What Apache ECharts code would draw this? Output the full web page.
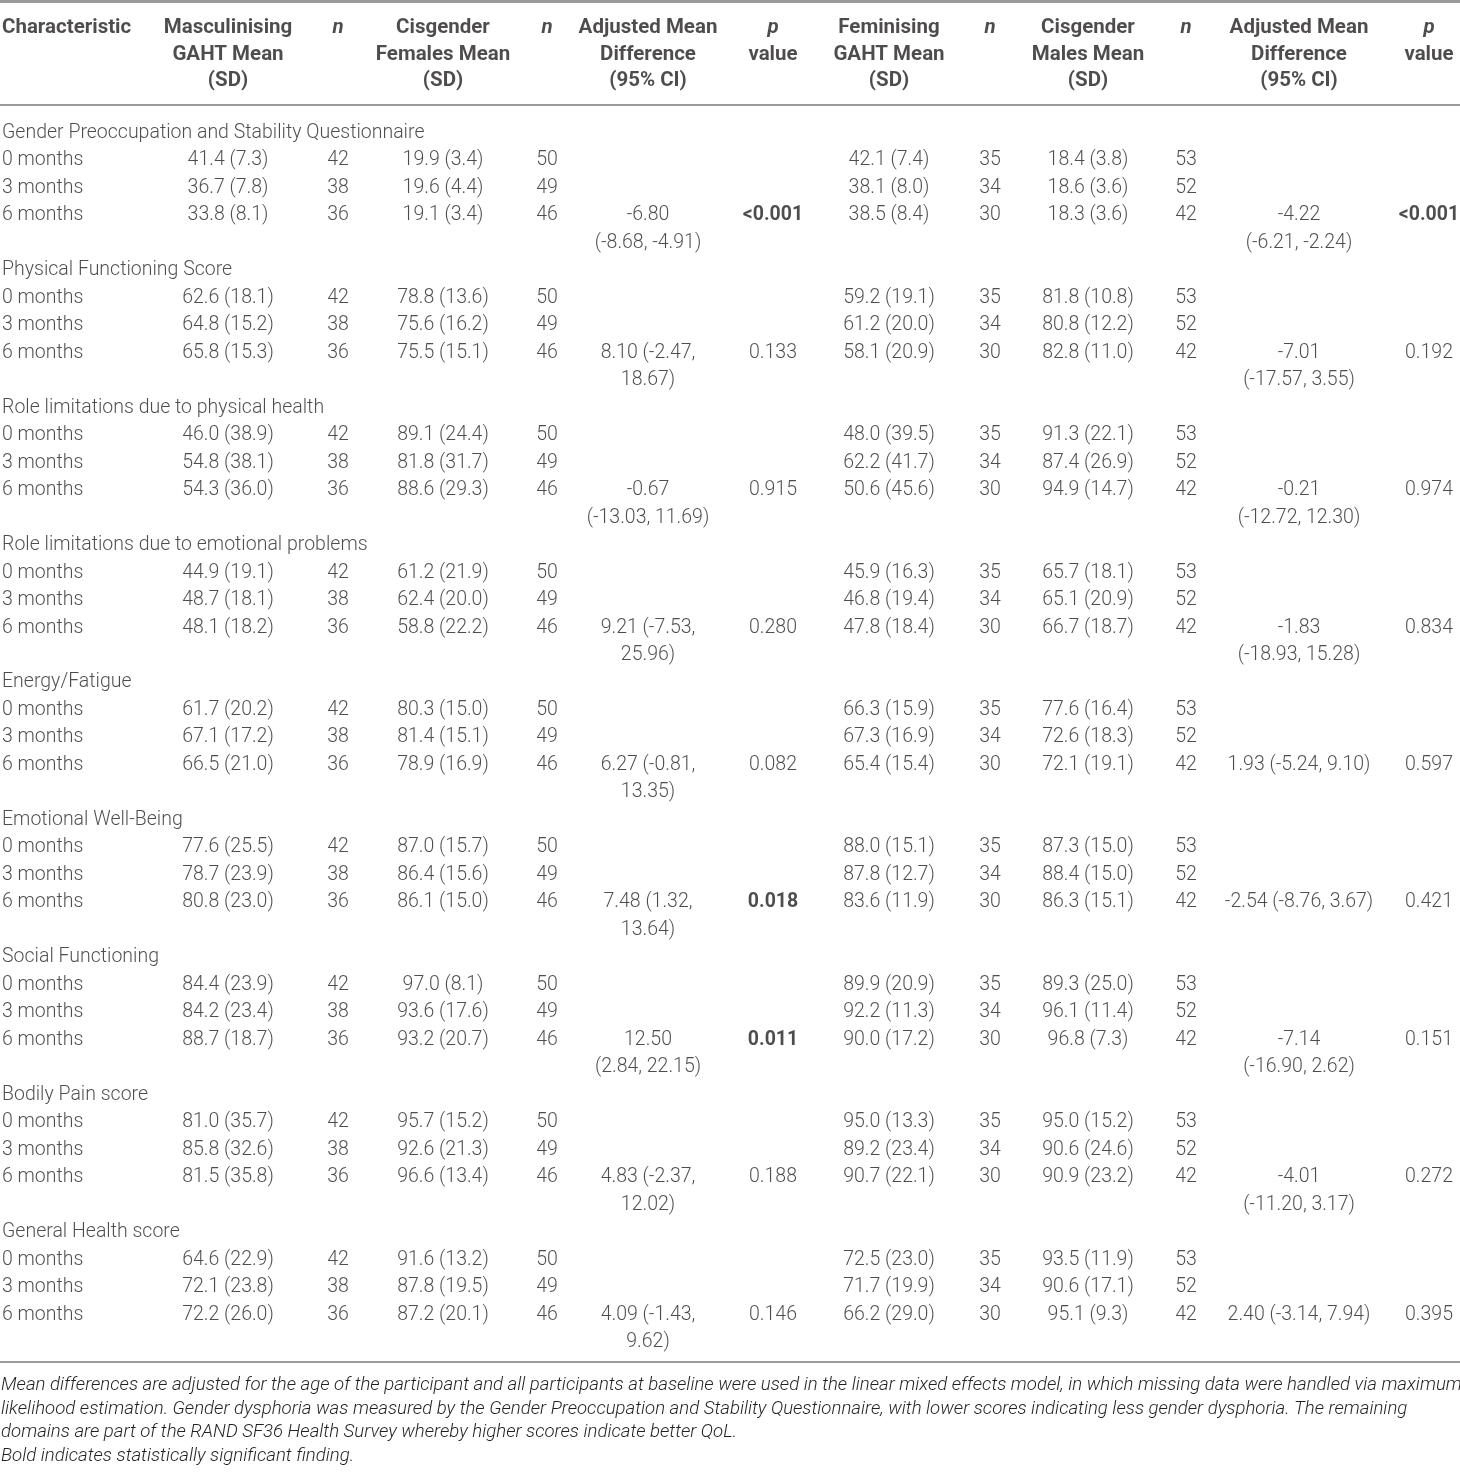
<!DOCTYPE html>
<html>
<head>
<meta charset="utf-8">
<script src="https://cdn.jsdelivr.net/npm/echarts@6/dist/echarts.min.js"></script>
<style>
html,body{margin:0;padding:0;background:#fff;}
#main{width:1460px;height:1472px;}
</style>
</head>
<body>
<div id="main"></div>
<script>
// table content
var sections = ['Gender Preoccupation and Stability Questionnaire', 'Physical Functioning Score',
    'Role limitations due to physical health', 'Role limitations due to emotional problems',
    'Energy/Fatigue', 'Emotional Well-Being', 'Social Functioning', 'Bodily Pain score', 'General Health score'];
var timepoints = ['0 months', '3 months', '6 months'];

var mascMean = [
    ['41.4 (7.3)', '36.7 (7.8)', '33.8 (8.1)'],
    ['62.6 (18.1)', '64.8 (15.2)', '65.8 (15.3)'],
    ['46.0 (38.9)', '54.8 (38.1)', '54.3 (36.0)'],
    ['44.9 (19.1)', '48.7 (18.1)', '48.1 (18.2)'],
    ['61.7 (20.2)', '67.1 (17.2)', '66.5 (21.0)'],
    ['77.6 (25.5)', '78.7 (23.9)', '80.8 (23.0)'],
    ['84.4 (23.9)', '84.2 (23.4)', '88.7 (18.7)'],
    ['81.0 (35.7)', '85.8 (32.6)', '81.5 (35.8)'],
    ['64.6 (22.9)', '72.1 (23.8)', '72.2 (26.0)']
];
var mascN = [42, 38, 36];
var cisFMean = [
    ['19.9 (3.4)', '19.6 (4.4)', '19.1 (3.4)'],
    ['78.8 (13.6)', '75.6 (16.2)', '75.5 (15.1)'],
    ['89.1 (24.4)', '81.8 (31.7)', '88.6 (29.3)'],
    ['61.2 (21.9)', '62.4 (20.0)', '58.8 (22.2)'],
    ['80.3 (15.0)', '81.4 (15.1)', '78.9 (16.9)'],
    ['87.0 (15.7)', '86.4 (15.6)', '86.1 (15.0)'],
    ['97.0 (8.1)', '93.6 (17.6)', '93.2 (20.7)'],
    ['95.7 (15.2)', '92.6 (21.3)', '96.6 (13.4)'],
    ['91.6 (13.2)', '87.8 (19.5)', '87.2 (20.1)']
];
var cisFN = [50, 49, 46];
var amdMasc = ['-6.80\n(-8.68, -4.91)', '8.10 (-2.47,\n18.67)', '-0.67\n(-13.03, 11.69)', '9.21 (-7.53,\n25.96)',
    '6.27 (-0.81,\n13.35)', '7.48 (1.32,\n13.64)', '12.50\n(2.84, 22.15)', '4.83 (-2.37,\n12.02)', '4.09 (-1.43,\n9.62)'];
var pMasc = ['<0.001', '0.133', '0.915', '0.280', '0.082', '0.018', '0.011', '0.188', '0.146'];

var femMean = [
    ['42.1 (7.4)', '38.1 (8.0)', '38.5 (8.4)'],
    ['59.2 (19.1)', '61.2 (20.0)', '58.1 (20.9)'],
    ['48.0 (39.5)', '62.2 (41.7)', '50.6 (45.6)'],
    ['45.9 (16.3)', '46.8 (19.4)', '47.8 (18.4)'],
    ['66.3 (15.9)', '67.3 (16.9)', '65.4 (15.4)'],
    ['88.0 (15.1)', '87.8 (12.7)', '83.6 (11.9)'],
    ['89.9 (20.9)', '92.2 (11.3)', '90.0 (17.2)'],
    ['95.0 (13.3)', '89.2 (23.4)', '90.7 (22.1)'],
    ['72.5 (23.0)', '71.7 (19.9)', '66.2 (29.0)']
];
var femN = [35, 34, 30];
var cisMMean = [
    ['18.4 (3.8)', '18.6 (3.6)', '18.3 (3.6)'],
    ['81.8 (10.8)', '80.8 (12.2)', '82.8 (11.0)'],
    ['91.3 (22.1)', '87.4 (26.9)', '94.9 (14.7)'],
    ['65.7 (18.1)', '65.1 (20.9)', '66.7 (18.7)'],
    ['77.6 (16.4)', '72.6 (18.3)', '72.1 (19.1)'],
    ['87.3 (15.0)', '88.4 (15.0)', '86.3 (15.1)'],
    ['89.3 (25.0)', '96.1 (11.4)', '96.8 (7.3)'],
    ['95.0 (15.2)', '90.6 (24.6)', '90.9 (23.2)'],
    ['93.5 (11.9)', '90.6 (17.1)', '95.1 (9.3)']
];
var cisMN = [53, 52, 42];
var amdFem = ['-4.22\n(-6.21, -2.24)', '-7.01\n(-17.57, 3.55)', '-0.21\n(-12.72, 12.30)', '-1.83\n(-18.93, 15.28)',
    '1.93 (-5.24, 9.10)', '-2.54 (-8.76, 3.67)', '-7.14\n(-16.90, 2.62)', '-4.01\n(-11.20, 3.17)', '2.40 (-3.14, 7.94)'];
var pFem = ['<0.001', '0.192', '0.974', '0.834', '0.597', '0.421', '0.151', '0.272', '0.395'];

var headers = ['Characteristic', 'Masculinising\nGAHT Mean\n(SD)', '{i|n}', 'Cisgender\nFemales Mean\n(SD)', '{i|n}',
    'Adjusted Mean\nDifference\n(95% CI)', '{i|p}\nvalue', 'Feminising\nGAHT Mean\n(SD)', '{i|n}',
    'Cisgender\nMales Mean\n(SD)', '{i|n}', 'Adjusted Mean\nDifference\n(95% CI)', '{i|p}\nvalue'];

var footnote = [
    'Mean differences are adjusted for the age of the participant and all participants at baseline were used in the linear mixed effects model, in which missing data were handled via maximum',
    'likelihood estimation. Gender dysphoria was measured by the Gender Preoccupation and Stability Questionnaire, with lower scores indicating less gender dysphoria. The remaining',
    'domains are part of the RAND SF36 Health Survey whereby higher scores indicate better QoL.',
    'Bold indicates statistically significant finding.'
];

// layout: column anchors (x in px), rows counted in text lines
var colX = [2, 228, 338, 443, 547, 648, 773, 889, 990, 1088, 1186, 1299, 1429];
var rowH = 27.48, firstRowY = 133;
var yMin = -firstRowY / rowH, yMax = (1472 - firstRowY) / rowH;
var fontFam = 'Roboto, "Liberation Sans", sans-serif';
var textColor = '#231f20';

var cells = [];
function cell(col, line, text, opt) {
    opt = opt || {};
    cells.push({
        value: [colX[col], line],
        label: {
            formatter: String(text),
            align: col === 0 ? 'left' : 'center',
            fontWeight: opt.bold ? 'bold' : 300
        }
    });
}
function isSig(p) {
    return p.charAt(0) === '<' || parseFloat(p) < 0.05;
}

sections.forEach(function (s, k) {
    var base = k * 5;
    cell(0, base, s);
    timepoints.forEach(function (t, j) {
        var line = base + 1 + j;
        cell(0, line, t);
        cell(1, line, mascMean[k][j]);
        cell(2, line, mascN[j]);
        cell(3, line, cisFMean[k][j]);
        cell(4, line, cisFN[j]);
        cell(7, line, femMean[k][j]);
        cell(8, line, femN[j]);
        cell(9, line, cisMMean[k][j]);
        cell(10, line, cisMN[j]);
    });
    amdMasc[k].split('\n').forEach(function (t, j) { cell(5, base + 3 + j, t); });
    amdFem[k].split('\n').forEach(function (t, j) { cell(11, base + 3 + j, t); });
    cell(6, base + 3, pMasc[k], {bold: isSig(pMasc[k])});
    cell(12, base + 3, pFem[k], {bold: isSig(pFem[k])});
});

// header block, top of first header line
var headTop = (15 - firstRowY) / rowH;
var headCells = headers.map(function (h, i) {
    return {
        value: [colX[i], headTop],
        label: {
            formatter: h,
            align: i === 0 ? 'left' : 'center'
        }
    };
});

var chart = echarts.init(document.getElementById('main'));
var option = {
    backgroundColor: '#fff',
    animation: false,
    grid: {left: 0, right: 0, top: 0, bottom: 0},
    xAxis: {type: 'value', min: 0, max: 1460, show: false},
    yAxis: {type: 'value', min: yMin, max: yMax, inverse: true, show: false},
    series: [
        {
            type: 'scatter',
            symbolSize: 0,
            silent: true,
            clip: false,
            data: cells,
            label: {
                show: true,
                position: [0, 0],
                verticalAlign: 'middle',
                fontFamily: fontFam,
                fontSize: 19.5,
                color: textColor
            },
            markLine: {
                silent: true,
                symbol: ['none', 'none'],
                label: {show: false},
                lineStyle: {color: '#9a9a9a', width: 2, type: 'solid'},
                data: [
                    {yAxis: (2 - firstRowY) / rowH},
                    {yAxis: (105 - firstRowY) / rowH},
                    {yAxis: (1362 - firstRowY) / rowH}
                ]
            }
        },
        {
            type: 'scatter',
            symbolSize: 0,
            silent: true,
            data: headCells,
            label: {
                show: true,
                position: [0, 0],
                verticalAlign: 'top',
                fontFamily: fontFam,
                fontSize: 20.5,
                fontWeight: 'bold',
                lineHeight: 26.5,
                color: textColor,
                rich: {
                    i: {fontStyle: 'italic', fontWeight: 'bold', fontFamily: fontFam, fontSize: 20.5, lineHeight: 26.5, color: textColor}
                }
            }
        }
    ],
    graphic: [{
        type: 'text',
        left: 1,
        top: 1374,
        style: {
            text: footnote.join('\n'),
            font: 'italic 300 18.6px ' + fontFam,
            lineHeight: 23.4,
            fill: textColor
        }
    }, {
        // top rule of the table frame
        type: 'rect',
        left: 0,
        top: 0,
        shape: {width: 1460, height: 2},
        style: {fill: '#9a9a9a'},
        silent: true
    }]
};
chart.setOption(option);
</script>
</body>
</html>
